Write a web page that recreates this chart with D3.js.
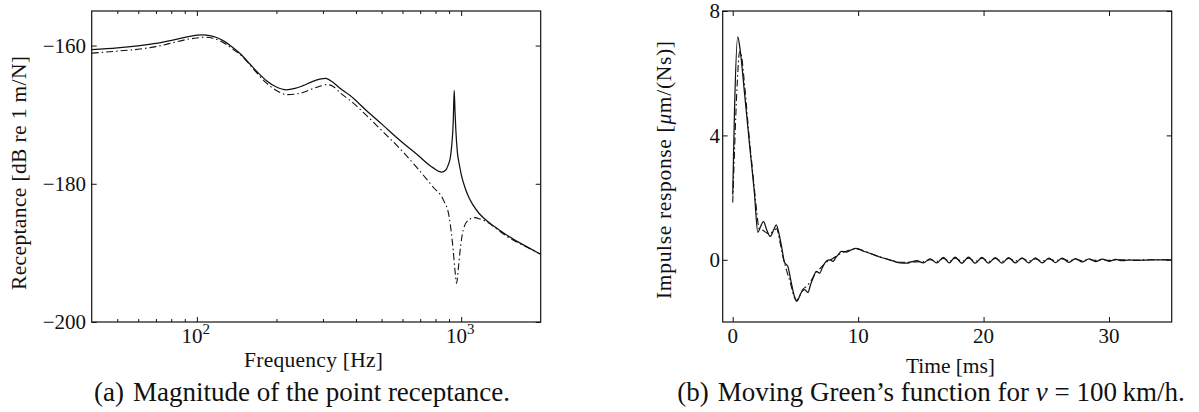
<!DOCTYPE html>
<html>
<head>
<meta charset="utf-8">
<script src="https://cdn.jsdelivr.net/npm/d3@7"></script>
<style>
  html, body { margin: 0; padding: 0; background: #fff; }
  svg { display: block; }
  text { font-family: "Liberation Serif", "DejaVu Serif", serif; fill: #111; }
</style>
</head>
<body>
<svg id="fig" width="1199" height="412"></svg>
<script>
// ---- (a) point receptance magnitude, dB re 1 m/N ----
const recFreqSolid = [40, 50, 61, 70, 81, 92, 100, 105, 112, 118, 127, 136, 147, 158, 170, 183, 200, 218, 235, 252, 272, 292, 307, 327, 350, 379, 438, 507, 586, 678, 784, 843, 875, 893, 910, 920, 934, 941, 948.5, 955, 968, 983, 1000, 1033, 1070, 1110, 1170, 1248, 1360, 1486, 1620, 1770, 2000];
const recSolid = [-160.6, -160.35, -160.0, -159.7, -159.2, -158.75, -158.5, -158.45, -158.55, -158.8, -159.4, -160.2, -161.3, -162.6, -163.9, -165.05, -166.0, -166.4, -166.2, -165.8, -165.25, -164.85, -164.75, -165.3, -166.25, -167.2, -169.4, -171.55, -173.7, -175.7, -177.7, -178.3, -178.0, -177.3, -176.2, -174.7, -170.8, -166.5, -169.8, -172.3, -175.5, -177.1, -178.6, -180.5, -182.0, -183.1, -184.3, -185.3, -186.4, -187.4, -188.3, -189.1, -190.2];

const recFreqDash = [40, 50, 61, 70, 81, 92, 100, 107, 115, 122, 130, 140, 147, 158, 170, 183, 200, 220, 252, 272, 292, 310, 327, 350, 379, 438, 507, 586, 678, 784, 858, 901, 933, 948, 961, 975, 989, 1018, 1063, 1127, 1180, 1248, 1360, 1486, 1620, 1770, 2000];
const recDash = [-161.1, -160.8, -160.5, -160.15, -159.6, -159.1, -158.9, -158.8, -158.95, -159.3, -159.9, -160.8, -161.4, -162.7, -164.1, -165.4, -166.5, -167.1, -166.8, -166.3, -165.9, -165.65, -165.9, -166.9, -167.9, -170.1, -172.5, -174.9, -177.6, -180.5, -182.4, -184.8, -189.6, -192.6, -194.4, -192.4, -190.0, -186.7, -185.3, -184.9, -185.1, -185.5, -186.5, -187.6, -188.4, -189.15, -190.2];

const recTicksY = [-200, -180, -160];
const recTickLabelsY = ["\u2212200", "\u2212180", "\u2212160"];
const recDecades = [100, 1000];
const recDecadeExp = ["2", "3"];
const recMinor = [50, 60, 70, 80, 90, 200, 300, 400, 500, 600, 700, 800, 900];

// ---- (b) moving Green's function, µm/(Ns) ----
const timeSolid = [0, 0.13, 0.4, 0.61, 0.94, 1.33, 1.73, 2.0, 2.2, 2.45, 2.72, 3.0, 3.25, 3.47, 3.68, 3.87, 4.13, 4.4, 4.65, 4.9, 5.1, 5.3, 5.5, 5.74, 6.0, 6.2, 6.4, 6.67, 6.93, 7.15, 7.33, 7.55, 7.73, 8.0, 8.2, 8.4, 8.67, 9.07, 9.47, 9.81, 10.27, 10.93, 11.73, 12.53, 13.2, 13.87, 14.3, 14.67, 15.2, 15.73, 16.27, 16.8, 17.27, 17.73, 18.27, 18.8, 19.33, 19.87, 20.4, 20.93, 21.47, 22.0, 22.53, 23.07, 23.6, 24.13, 24.67, 25.2, 25.73, 26.27, 26.8, 27.33, 27.87, 28.4, 28.93, 29.47, 30.0, 30.53, 31.07, 31.6, 32.13, 33.0, 34.0, 35.0];
const greenSolid = [2.09, 4.6, 7.17, 6.69, 5.36, 3.75, 2.14, 0.88, 1.05, 1.23, 0.95, 0.75, 0.95, 1.12, 0.85, 0.48, -0.08, -0.22, -0.7, -1.15, -1.34, -1.2, -1.02, -0.96, -1.05, -0.8, -0.59, -0.37, -0.43, -0.25, -0.11, -0.02, 0.0, -0.05, 0.06, 0.16, 0.27, 0.25, 0.32, 0.37, 0.3, 0.21, 0.09, 0.0, -0.09, -0.11, -0.06, -0.03, -0.1, 0.03, -0.1, 0.08, -0.1, 0.09, -0.11, 0.09, -0.11, 0.08, -0.11, 0.07, -0.11, 0.07, -0.1, 0.06, -0.1, 0.06, -0.1, 0.05, -0.09, 0.05, -0.08, 0.04, -0.07, 0.03, -0.06, 0.02, -0.05, 0.01, -0.03, 0.0, -0.02, -0.01, 0.0, 0.0];

const timeDash = [0, 0.15, 0.35, 0.55, 0.7, 0.95, 1.3, 1.65, 1.9, 2.1, 2.4, 2.8, 3.2, 3.5, 3.75, 4.0, 4.3, 4.6, 4.9, 5.1, 5.35, 5.6, 5.9, 6.2, 6.5, 6.8, 7.1, 7.4, 7.7, 8.0, 8.4, 8.8, 9.2, 9.6, 9.9, 10.5, 11.2, 12.0, 12.8, 13.5, 14.2, 15.2, 15.73, 16.27, 16.8, 17.27, 17.73, 18.27, 18.8, 19.33, 19.87, 20.4, 20.93, 21.47, 22.0, 22.53, 23.07, 23.6, 24.13, 24.67, 25.2, 25.73, 26.27, 26.8, 27.33, 27.87, 28.4, 28.93, 29.47, 30.0, 31.0, 32.0, 33.0, 35.0];
const greenDash = [1.84, 3.6, 5.6, 6.7, 6.55, 5.6, 4.0, 2.6, 1.6, 1.0, 0.95, 0.85, 0.9, 1.0, 0.6, 0.1, -0.35, -0.75, -1.2, -1.3, -1.15, -0.95, -0.85, -0.7, -0.5, -0.35, -0.22, -0.1, -0.02, 0.05, 0.15, 0.24, 0.3, 0.34, 0.35, 0.28, 0.17, 0.06, -0.04, -0.08, -0.07, -0.06, 0.0, -0.05, 0.04, -0.05, 0.05, -0.05, 0.05, -0.05, 0.05, -0.05, 0.04, -0.05, 0.04, -0.04, 0.04, -0.04, 0.03, -0.04, 0.03, -0.03, 0.03, -0.03, 0.02, -0.03, 0.01, -0.02, 0.01, -0.02, 0.0, -0.01, 0.0, 0.0];

const greenTicksX = [0, 10, 20, 30];
const greenTicksY = [0, 4, 8];

const svg = d3.select("#fig");
const INK = "#111";
const DASHDOT = "7,3,1.5,3";

// scales
const xA = d3.scaleLog().domain([40, 2000]).range([91.7, 540.7]);
const yA = d3.scaleLinear().domain([-200, -155]).range([322, 11]);
const xB = d3.scaleLinear().domain([-0.8, 35]).range([722.7, 1171.7]);
const yB = d3.scaleLinear().domain([-2, 8]).range([322, 11]);

function styleAxis(g) {
  g.select(".domain").remove();
  g.selectAll(".tick line").attr("stroke", INK).attr("stroke-width", 1);
  g.selectAll(".tick text").remove();
}

function frame(x, y) {
  const [x0, x1] = x.range(), [y0, y1] = y.range();
  svg.append("rect")
    .attr("x", x0).attr("y", y1)
    .attr("width", x1 - x0).attr("height", y0 - y1)
    .attr("fill", "none").attr("stroke", INK).attr("stroke-width", 1.2);
}

// inward ticks on all four sides
function ticks(x, y, xMajor, xMinor, yMajor) {
  const [x0, x1] = x.range(), [y0, y1] = y.range();
  svg.append("g").attr("transform", `translate(0,${y0})`)
    .call(d3.axisBottom(x).tickValues(xMajor).tickSize(-5)).call(styleAxis);
  svg.append("g").attr("transform", `translate(0,${y1})`)
    .call(d3.axisTop(x).tickValues(xMajor).tickSize(-5)).call(styleAxis);
  if (xMinor.length) {
    svg.append("g").attr("transform", `translate(0,${y0})`)
      .call(d3.axisBottom(x).tickValues(xMinor).tickSize(-3)).call(styleAxis);
    svg.append("g").attr("transform", `translate(0,${y1})`)
      .call(d3.axisTop(x).tickValues(xMinor).tickSize(-3)).call(styleAxis);
  }
  svg.append("g").attr("transform", `translate(${x0},0)`)
    .call(d3.axisLeft(y).tickValues(yMajor).tickSize(-5)).call(styleAxis);
  svg.append("g").attr("transform", `translate(${x1},0)`)
    .call(d3.axisRight(y).tickValues(yMajor).tickSize(-5)).call(styleAxis);
}

function curve(x, y, xs, ys, dash) {
  const line = d3.line()
    .x(d => x(d[0])).y(d => y(d[1]))
    .curve(d3.curveMonotoneX);
  svg.append("path")
    .datum(xs.map((v, i) => [v, ys[i]]))
    .attr("d", line)
    .attr("fill", "none")
    .attr("stroke", INK)
    .attr("stroke-width", dash ? 1.1 : 1.25)
    .attr("stroke-linejoin", "round")
    .attr("stroke-dasharray", dash ? DASHDOT : null);
}

// axis title with a fixed run length
function title(x, y, rotate, len, parts) {
  const t = svg.append("text")
    .attr("transform", `translate(${x},${y})` + (rotate ? " rotate(-90)" : ""))
    .attr("text-anchor", "middle").attr("font-size", 21.5)
    .attr("textLength", len).attr("lengthAdjust", "spacing");
  parts.forEach(p => {
    const s = t.append("tspan").text(p[0]);
    if (p[1]) s.attr("font-style", "italic");
  });
  return t;
}

// ---------- panel (a) ----------
ticks(xA, yA, recDecades, recMinor, recTicksY);
curve(xA, yA, recFreqDash, recDash, true);
curve(xA, yA, recFreqSolid, recSolid, false);
frame(xA, yA);

svg.append("g").selectAll("text").data(recTicksY).join("text")
  .attr("x", 86).attr("y", d => yA(d)).attr("dy", "0.35em")
  .attr("text-anchor", "end").attr("font-size", 21)
  .text((d, i) => recTickLabelsY[i]);

const decLab = svg.append("g").selectAll("text").data(recDecades).join("text")
  .attr("x", d => xA(d) - 1).attr("y", 343)
  .attr("text-anchor", "middle").attr("font-size", 21);
decLab.append("tspan").text("10");
decLab.append("tspan").attr("font-size", 15).attr("dy", -9).text((d, i) => recDecadeExp[i]);

title(313.5, 367, false, 139, [["Frequency [Hz]"]]);
title(25.5, 173, true, 234, [["Receptance [dB re 1 m/N]"]]);

const capA = svg.append("text").attr("x", 302).attr("y", 401)
  .attr("text-anchor", "middle").attr("font-size", 27);
capA.append("tspan").text("(a)");
capA.append("tspan").attr("dx", 9).text("Magnitude of the point receptance.");

// ---------- panel (b) ----------
ticks(xB, yB, greenTicksX, [], greenTicksY);
curve(xB, yB, timeDash, greenDash, true);
curve(xB, yB, timeSolid, greenSolid, false);
frame(xB, yB);

svg.append("g").selectAll("text").data(greenTicksY).join("text")
  .attr("x", 720).attr("y", d => yB(d)).attr("dy", "0.35em")
  .attr("text-anchor", "end").attr("font-size", 21)
  .text(d => d);

svg.append("g").selectAll("text").data(greenTicksX).join("text")
  .attr("x", d => xB(d)).attr("y", 343)
  .attr("text-anchor", "middle").attr("font-size", 21)
  .text(d => d);

title(950.5, 373, false, 89, [["Time [ms]"]]);
title(671, 170, true, 258, [["Impulse response ["], ["\u03bc", true], ["m/(Ns)]"]]);

const capB = svg.append("text").attr("x", 931).attr("y", 401)
  .attr("text-anchor", "middle").attr("font-size", 27);
capB.append("tspan").text("(b)");
capB.append("tspan").attr("dx", 9).text("Moving Green\u2019s function for ");
capB.append("tspan").attr("font-style", "italic").text("v");
capB.append("tspan").text("\u2005=\u2005100\u2009km/h.");
</script>
</body>
</html>
